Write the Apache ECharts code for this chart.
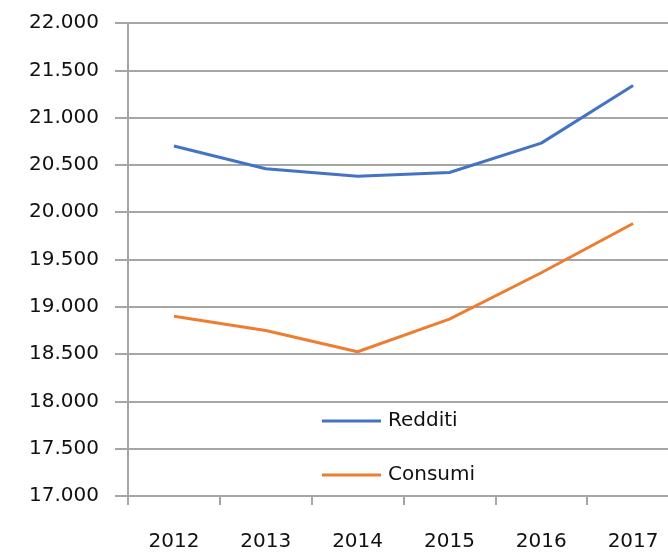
<!DOCTYPE html>
<html>
<head>
<meta charset="utf-8">
<script src="https://cdn.jsdelivr.net/npm/echarts@6/dist/echarts.min.js"></script>
<style>
  html, body { margin: 0; padding: 0; background: #fff; overflow: hidden; }
  /* il grafico originale è tagliato a destra: area più larga della finestra */
  #chart { width: 679px; height: 554px; }
</style>
</head>
<body>
<div id="chart"></div>
<script>
var years = ['2012', '2013', '2014', '2015', '2016', '2017'];
var redditi = [20700, 20460, 20380, 20420, 20730, 21340];
var consumi = [18900, 18750, 18525, 18870, 19360, 19880];

// etichette asse y col punto come separatore delle migliaia
function fmt(v) {
  var s = String(v);
  return s.slice(0, s.length - 3) + '.' + s.slice(s.length - 3);
}

var chart = echarts.init(document.getElementById('chart'));
var labelFont = { fontFamily: 'DejaVu Sans', fontSize: 20, color: '#111' };

chart.setOption({
  animation: false,
  grid: { left: 128, right: 0, top: 23, bottom: 58 },
  legend: {
    orient: 'vertical',
    left: 322,
    top: 411,
    padding: 0,
    icon: 'rect',
    itemWidth: 59,
    itemHeight: 3,
    itemGap: 34,
    textStyle: { fontFamily: 'DejaVu Sans', fontSize: 20, color: '#111', padding: [0, 0, 0, 2] },
    data: ['Redditi', 'Consumi']
  },
  xAxis: {
    type: 'category',
    data: years,
    boundaryGap: true,
    axisLine: { lineStyle: { color: '#a6a6a6', width: 2 } },
    axisTick: { show: true, length: 9, lineStyle: { color: '#a6a6a6', width: 2 } },
    axisLabel: Object.assign({ margin: 36 }, labelFont)
  },
  yAxis: {
    type: 'value',
    min: 17000,
    max: 22000,
    interval: 500,
    axisLine: { show: true, lineStyle: { color: '#a6a6a6', width: 2 } },
    axisTick: { show: true, length: 13, lineStyle: { color: '#a6a6a6', width: 2 } },
    splitLine: { lineStyle: { color: '#a6a6a6', width: 2 } },
    axisLabel: Object.assign({ margin: 29, formatter: fmt }, labelFont)
  },
  series: [
    {
      name: 'Redditi',
      type: 'line',
      data: redditi,
      symbol: 'none',
      itemStyle: { color: '#4472c4' },
      lineStyle: { color: '#4472c4', width: 3 }
    },
    {
      name: 'Consumi',
      type: 'line',
      data: consumi,
      symbol: 'none',
      itemStyle: { color: '#ed7d31' },
      lineStyle: { color: '#ed7d31', width: 3 }
    }
  ]
});
</script>
</body>
</html>
